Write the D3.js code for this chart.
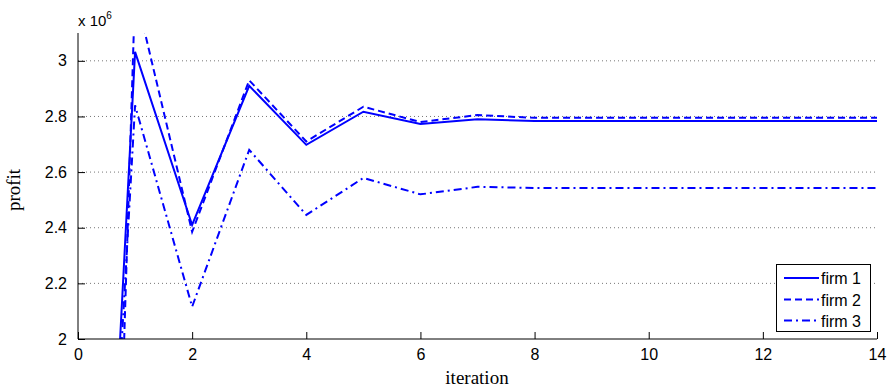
<!DOCTYPE html>
<html>
<head>
<meta charset="utf-8">
<script src="https://cdn.jsdelivr.net/npm/d3@7"></script>
<style>
  body { margin: 0; background: #fff; }
  svg { display: block; }
</style>
</head>
<body>
<svg id="chart" width="890" height="391"></svg>
<script>
// Data (profit in units of 10^6)
const iterations = [0, 1, 2, 3, 4, 5, 6, 7, 8, 9, 10, 11, 12, 13, 14];
const firm1 = [-0.9, 3.032, 2.41, 2.91, 2.698, 2.817, 2.773, 2.79, 2.784, 2.784, 2.784, 2.784, 2.784, 2.784, 2.784];
const firm2 = [-3.3, 3.25, 2.385, 2.93, 2.71, 2.835, 2.78, 2.805, 2.795, 2.795, 2.795, 2.795, 2.795, 2.795, 2.795];
const firm3 = [-0.8, 2.84, 2.116, 2.68, 2.446, 2.579, 2.52, 2.547, 2.543, 2.543, 2.543, 2.543, 2.543, 2.543, 2.543];
const seriesNames = ["firm 1", "firm 2", "firm 3"];
const xTicks = [0, 2, 4, 6, 8, 10, 12, 14];
const yTicks = [2, 2.2, 2.4, 2.6, 2.8, 3];

(function () {
const series = [
  { name: seriesNames[0], values: firm1, dash: null },
  { name: seriesNames[1], values: firm2, dash: "7,4" },
  { name: seriesNames[2], values: firm3, dash: "8,4,2,4" }
];

const svg = d3.select("#chart");
const mLeft = 78, mRight = 877, mTop = 33, mBottom = 339;
const x = d3.scaleLinear().domain([0, 14]).range([mLeft, mRight]);
const y = d3.scaleLinear().domain([2, 3.1]).range([mBottom, mTop]);

const axisFont = "'Liberation Sans', Arial, Helvetica, sans-serif";
const serifFont = "'Liberation Serif', 'DejaVu Serif', serif";

// grid lines (dotted)
svg.append("g").selectAll("line").data(yTicks.filter(d => d > 2)).join("line")
  .attr("x1", mLeft).attr("x2", mRight)
  .attr("y1", d => y(d)).attr("y2", d => y(d))
  .attr("stroke", "#777").attr("stroke-width", 1)
  .attr("stroke-dasharray", "1,3");

// clip
svg.append("clipPath").attr("id", "clip").append("rect")
  .attr("x", mLeft).attr("y", mTop).attr("width", mRight - mLeft).attr("height", mBottom - mTop);

const line = d3.line().x((d, i) => x(iterations[i])).y(d => y(d));

svg.append("g").attr("clip-path", "url(#clip)")
  .selectAll("path").data(series).join("path")
  .attr("d", d => line(d.values))
  .attr("fill", "none")
  .attr("stroke", "#0000ff")
  .attr("stroke-width", 2)
  .attr("stroke-dasharray", d => d.dash);

// x axis
const xAxis = d3.axisBottom(x).tickValues(xTicks).tickSize(-7).tickPadding(10).tickFormat(d3.format("d"));
const gx = svg.append("g").attr("transform", `translate(0,${mBottom})`).call(xAxis);
gx.select(".domain").attr("d", `M${mLeft},0H${mRight}`).attr("stroke", "#000");
gx.selectAll("text").attr("font-family", axisFont).attr("font-size", 16).attr("fill", "#000");

// y axis
const yAxis = d3.axisLeft(y).tickValues(yTicks).tickSize(-7).tickPadding(11).tickFormat(d => String(d));
const gy = svg.append("g").attr("transform", `translate(${mLeft},0)`).call(yAxis);
gy.select(".domain").attr("d", `M0,${mTop}V${mBottom}`).attr("stroke", "#000");
gy.selectAll("text").attr("font-family", axisFont).attr("font-size", 16).attr("fill", "#000");

// exponent label
const expo = svg.append("text").attr("x", 78).attr("y", 26)
  .attr("font-family", axisFont).attr("font-size", 15).attr("fill", "#000");
expo.append("tspan").text("x 10");
expo.append("tspan").attr("dy", -7).attr("font-size", 10).text("6");

// axis titles
svg.append("text").attr("x", 477).attr("y", 384).attr("text-anchor", "middle")
  .attr("font-family", serifFont).attr("font-size", 19).attr("fill", "#000").text("iteration");
svg.append("text").attr("transform", "translate(20,190) rotate(-90)").attr("text-anchor", "middle")
  .attr("font-family", serifFont).attr("font-size", 19).attr("fill", "#000").text("profit");

// legend
const lg = svg.append("g");
lg.append("rect").attr("x", 776.5).attr("y", 264.5).attr("width", 94).attr("height", 67)
  .attr("fill", "#fff").attr("stroke", "#000").attr("stroke-width", 1);
const rowY = [278, 299.5, 320.5];
series.forEach((s, i) => {
  lg.append("line").attr("x1", 784).attr("x2", 819).attr("y1", rowY[i]).attr("y2", rowY[i])
    .attr("stroke", "#0000ff").attr("stroke-width", 2).attr("stroke-dasharray", s.dash);
  lg.append("text").attr("x", 821).attr("y", rowY[i] + 6)
    .attr("font-family", axisFont).attr("font-size", 16).attr("fill", "#000").text(s.name);
});
})();
</script>
</body>
</html>
